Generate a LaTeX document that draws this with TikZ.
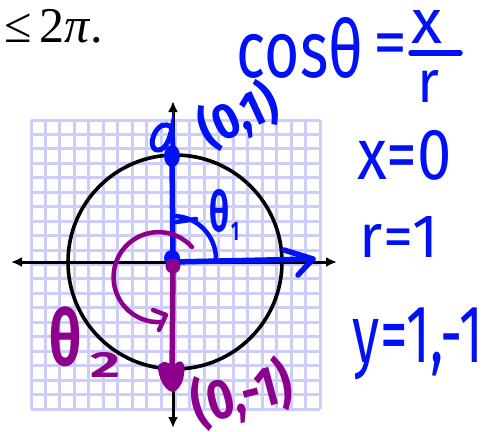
\documentclass[tikz,border=0pt]{standalone}
\usepackage{fontspec}
\setmainfont{Liberation Serif}
\newfontfamily\hand{Fira Sans}
\usepackage{graphicx}
\usetikzlibrary{arrows.meta}
\definecolor{pen}{RGB}{0,18,245}
\definecolor{plum}{RGB}{140,0,140}
\definecolor{gridc}{RGB}{205,205,250}
\newcommand{\hw}[3]{\resizebox*{#1pt}{#2pt}{\hand #3}}
\newcommand{\hwb}[3]{\resizebox*{#1pt}{#2pt}{\hand\bfseries #3}}
\begin{document}
\begin{tikzpicture}[x=1pt,y=-1pt,
  lbl/.style={inner sep=0pt, anchor=center},
  axisline/.style={line width=3pt, black, {Latex[length=11pt,width=10pt]}-{Latex[length=11pt,width=10pt]}},
  bluestroke/.style={pen, line width=5.5pt, line cap=round, line join=round},
  plumstroke/.style={plum, line width=5.5pt, line cap=round, line join=round},
  gridline/.style={gridc, line width=3pt}]
\useasboundingbox (0,0) rectangle (483,432);
\fill[white] (0,0) rectangle (483,432);
% grid
\foreach \i in {0,...,20} {
  \draw[gridline] (31+\i*14.45,120) -- (31+\i*14.45,409);
  \draw[gridline] (31,120+\i*14.45) -- (320,120+\i*14.45);
}
% coordinates
\coordinate (O) at (173,262);
\coordinate (Xl) at (11,262);
\coordinate (Xr) at (337,262);
\coordinate (Yt) at (173,101);
\coordinate (Yb) at (173,428);
\coordinate (C) at (175,262);
\coordinate (Top) at (172,156);
\coordinate (Bot) at (172,378);
\coordinate (Re) at (313,259);
% axes
\draw[axisline] (Xl) -- (Xr);
\draw[axisline] (Yt) -- (Yb);
% unit circle
\draw[line width=3.6pt] (C) circle[radius=107];
% blue strokes
\draw[bluestroke] (Top) -- (O);
\draw[bluestroke] (O) -- (Re);
\draw[bluestroke] (284,250) -- (Re) -- (298,275);
\fill[pen] (Top) ellipse[x radius=8, y radius=11];
\draw[pen, line width=5pt, line cap=round] (172,128) .. controls (158,114) and (144,150) .. (158,150) .. controls (166,150) and (170,138) .. (172,128) -- (173,148);
\draw[pen, line width=4.5pt, line cap=round] (216,259) arc[start angle=0, end angle=-88, radius=43];
\draw[pen, line width=4.5pt, line cap=round] (176,222) -- (196,219);
\fill[pen] (172,258) circle[radius=8];
% purple strokes
\fill[plum] (173,266) circle[radius=7.5];
\draw[plumstroke] (173,266) -- (Bot);
\fill[plum] (158,369) .. controls (160,384) and (168,392) .. (173,392) .. controls (180,390) and (186,378) .. (184,365) .. controls (181,358) and (176,362) .. (173,367) .. controls (168,360) and (158,360) .. cycle;
\draw[plum, line width=4.5pt, line cap=round] (192,247) arc[start angle=-42, end angle=-274, radius=45];
\draw[plum, line width=4.5pt, line cap=round, line join=round] (153,310) -- (166,315) -- (159,330);
% texts
\node[anchor=base west, inner sep=0pt, font=\fontsize{50}{50}\selectfont] (ineq) at (4,42) {≤\,2{\itshape π}.};
\node[lbl, text=pen] (cos) at (300,47.5) {\hw{126}{61}{cosθ}};
\node[lbl, text=pen] (eq) at (390,50) {\resizebox{34pt}{!}{\hand =}};
\node[lbl, text=pen] (fx) at (427,27) {\hw{31}{33}{x}};
\coordinate (barl) at (411,53);
\coordinate (barr) at (460,53);
\draw[bluestroke] (barl) -- (barr);
\node[lbl, text=pen] (fr) at (429,86) {\hw{22}{32}{r}};
\node[lbl, text=pen] (x0) at (405,155) {\hw{94}{50}{x=0}};
\node[lbl, text=pen] (r1) at (399,237) {\hw{78}{41}{r=1}};
\node[lbl, text=pen] (y1) at (418,344) {\hw{130}{72}{y=1,-1}};
\node[lbl, text=pen, rotate=25] (p01) at (238,116) {\hwb{82}{52}{(0,1)}};
\node[lbl, text=plum, rotate=15] (p0m1) at (242,394) {\hwb{102}{58}{(0,-1)}};
\node[lbl, text=pen] (t1) at (220,211) {\hwb{20}{43}{θ}};
\node[lbl, text=pen] (t1s) at (235,231) {\hwb{8}{18}{1}};
\node[lbl, text=plum] (t2) at (66,337) {\hwb{32}{60}{θ}};
\node[lbl, text=plum] (t2s) at (105,365) {\hwb{30}{25}{2}};
\end{tikzpicture}
\end{document}
